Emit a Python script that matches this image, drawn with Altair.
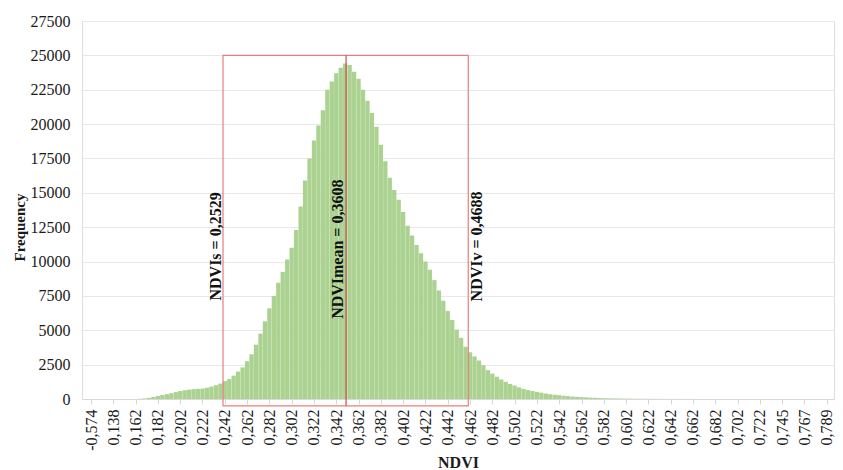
import altair as alt
import pandas as pd

# tick labels shown every 5 bars
tick_labels = ["-0,574", "0,138", "0,162", "0,182", "0,202", "0,222", "0,242", "0,262",
               "0,282", "0,302", "0,322", "0,342", "0,362", "0,382", "0,402", "0,422",
               "0,442", "0,462", "0,482", "0,502", "0,522", "0,542", "0,562", "0,582",
               "0,602", "0,622", "0,642", "0,662", "0,682", "0,702", "0,722", "0,745",
               "0,767", "0,789"]

# frequency per bar (bar index 0..165)
frequency = ([0] * 11 +
             [20, 40, 80, 150, 220, 290, 350, 420, 500, 580,
              640, 680, 720, 740, 760, 820, 900, 1000, 1120, 1300,
              1450, 1700, 2000, 2300, 2750, 3250, 3950, 4750, 5650, 6600,
              7500, 8450, 9250, 10150, 11000, 12300, 14000, 15900, 17500, 18800,
              19900, 21000, 22500, 23100, 23700, 24100, 24400, 24300, 23800, 23300,
              22500, 21700, 20800, 19800, 18500, 17300, 16100, 15200, 14500, 13600,
              12600, 11900, 11200, 10600, 10000, 9400, 8650, 7900, 7150, 6400,
              5750, 5050, 4450, 3800, 3400, 3100, 2800, 2450, 2100, 1850,
              1620, 1420, 1250, 1100, 980, 850, 740, 650, 580, 520,
              460, 400, 350, 310, 280, 240, 210, 180, 160, 140,
              120, 100, 85, 70, 60, 50, 45, 40, 35, 30,
              25, 20, 18, 15, 12] +
             [10, 10, 8, 8, 6, 6, 5, 5, 4, 4] +
             [0] * 30)

# annotation box (in bar-index units)
box_left, box_mean, box_right = 29.6, 57.2, 84.6
box_top, box_bottom = 25000, -500
ann_text = ["NDVIs = 0,2529", "NDVImean = 0,3608", "NDVIv = 0,4688"]
ann_pos = [28.0, 55.5, 86.6]
ann_y = [11100, 10900, 11100]

bars = pd.DataFrame({"x": list(range(len(frequency))), "y": frequency})
box = pd.DataFrame({"x": [box_left], "x2": [box_right], "y": [box_top], "y2": [box_bottom]})
mean_df = pd.DataFrame({"x": [box_mean], "y": [box_top], "y2": [box_bottom]})
ann = pd.DataFrame({"t": ann_text, "x": ann_pos, "y": ann_y})

FONT = "Liberation Serif"
label_arr = "[" + ",".join("'" + s + "'" for s in tick_labels) + "]"

xscale = alt.Scale(domain=[-0.9, 165.5], nice=False, zero=False)
yscale = alt.Scale(domain=[0, 27500], nice=False, zero=True)

xaxis = alt.Axis(values=list(range(0, 166, 5)), labelExpr=label_arr + "[round(datum.value/5)]",
                 labelAngle=270, labelAlign="right", labelBaseline="middle",
                 labelFont=FONT, labelFontSize=16, labelColor="#1a1a1a",
                 labelPadding=5, tickSize=5, tickColor="#d9d9d9", domainColor="#d9d9d9",
                 grid=False, title="NDVI", titleFont=FONT, titleFontSize=16,
                 titleFontWeight="bold", titleColor="#1a1a1a", titlePadding=4,
                 labelOverlap=False, labelBound=False, labelFlush=False)
yaxis = alt.Axis(values=list(range(0, 27501, 2500)), format="d", labelFont=FONT,
                 labelFontSize=16, labelColor="#1a1a1a", labelPadding=12, ticks=False,
                 domain=False, labelOverlap=False,
                 grid=True, gridColor="#e8e8e8", title="Frequency", titleFont=FONT,
                 titleFontSize=15, titleFontWeight="bold", titleColor="#1a1a1a",
                 titlePadding=3, titleY=206)

X = alt.X("x:Q", scale=xscale, axis=xaxis)
Y = alt.Y("y:Q", scale=yscale, axis=yaxis)

bar_layer = alt.Chart(bars).mark_bar(size=4.3, color="#acd291").encode(x=X, y=Y)

box_layer = alt.Chart(box).mark_rect(fillOpacity=0, stroke="#e57f7f", strokeWidth=1.2).encode(
    x=X, x2="x2:Q", y=Y, y2="y2:Q",
)

mean_layer = alt.Chart(mean_df).mark_rule(color="#cc4b4b", strokeWidth=1.2).encode(
    x=X, y=Y, y2="y2:Q",
)

text_layer = alt.Chart(ann).mark_text(angle=270, align="center", baseline="middle",
                                      font=FONT, fontSize=16, fontWeight="bold",
                                      color="#111111").encode(
    x=X, y=Y, text="t:N",
)

chart = alt.layer(bar_layer, box_layer, mean_layer, text_layer).properties(
    width=752, height=378,
    padding={"left": 4, "top": 5, "right": 0, "bottom": 0},
).configure_view(stroke=None).configure(background="white")

chart.save("out.html", embed_options={"renderer": "svg", "actions": False})
